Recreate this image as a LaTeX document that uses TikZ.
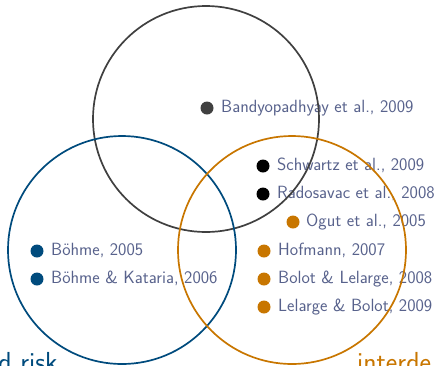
\documentclass[tikz,border=0pt]{standalone}
\usepackage{fontspec}
\begin{document}
\definecolor{refgray}{RGB}{64,64,64}
\definecolor{refblue}{RGB}{0,75,125}
\definecolor{reforange}{RGB}{200,118,0}
\definecolor{reftext}{RGB}{88,98,140}
\begin{tikzpicture}[x=1pt,y=-1pt,
  ring/.style={line width=1.7pt},
  dot/.style={circle,inner sep=0pt,minimum size=13pt},
  cite/.style={anchor=mid west,inner sep=0pt,text=reftext,yshift=-2.5pt,
    font=\sffamily\fontsize{17.7}{21}\selectfont},
  big/.style={inner sep=0pt,font=\sffamily\fontsize{27.5}{32}\selectfont}]
\useasboundingbox (0,0) rectangle (439,365);
\clip (0,0) rectangle (439,365);

% references and their markers
\node[dot,fill=refgray] (d1) at (207,108) {};
\node[cite] (t1) at (221,108) {Bandyopadhyay et al., 2009};
\node[dot,fill=black] (d2) at (263,166) {};
\node[cite] (t2) at (277,166) {Schwartz et al., 2009};
\node[dot,fill=black] (d3) at (263,194) {};
\node[cite] (t3) at (277,194) {Radosavac et al., 2008};
\node[dot,fill=reforange] (d4) at (293,222) {};
\node[cite] (t4) at (306,222) {Ogut et al., 2005};
\node[dot,fill=refblue] (d5) at (37,251) {};
\node[cite] (t5) at (51,251) {Böhme, 2005};
\node[dot,fill=refblue] (d6) at (37,279) {};
\node[cite] (t6) at (51,279) {Böhme \& Kataria, 2006};
\node[dot,fill=reforange] (d7) at (264,251) {};
\node[cite] (t7) at (278,251) {Hofmann, 2007};
\node[dot,fill=reforange] (d8) at (264,279) {};
\node[cite] (t8) at (278,279) {Bolot \& Lelarge, 2008};
\node[dot,fill=reforange] (d9) at (264,307) {};
\node[cite] (t9) at (278,307) {Lelarge \& Bolot, 2009};

% the three sets
\draw[ring,draw=refgray] (206,119) circle[radius=113pt];
\draw[ring,draw=refblue] (122,250) circle[radius=114pt];
\draw[ring,draw=reforange] (292,250) circle[radius=114pt];

% set captions along the lower edge
\node[big,anchor=base east,text=refblue] (c1) at (58,371.5) {d risk};
\node[big,anchor=base west,text=reforange] (c2) at (357,371.5) {interde};
\end{tikzpicture}
\end{document}
